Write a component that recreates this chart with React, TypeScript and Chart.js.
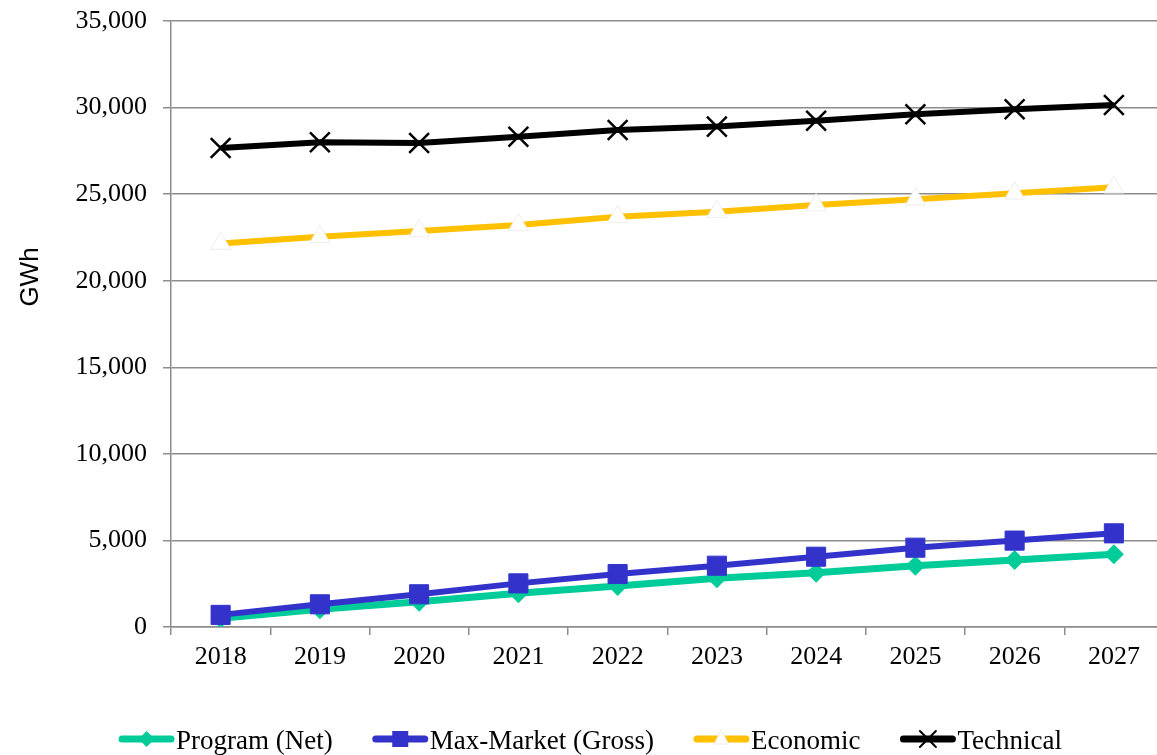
import React, { useEffect, useRef } from "react";
import { Chart, registerables } from "chart.js";

Chart.register(...registerables);

const years = ["2018", "2019", "2020", "2021", "2022", "2023", "2024", "2025", "2026", "2027"];
const programNet = [500, 1020, 1460, 1950, 2370, 2810, 3140, 3540, 3870, 4200];
const maxMarket = [700, 1310, 1890, 2520, 3060, 3540, 4060, 4580, 4990, 5410];
const economic = [22150, 22540, 22870, 23220, 23700, 23990, 24370, 24700, 25050, 25400];
const technical = [27660, 28000, 27950, 28320, 28700, 28900, 29240, 29610, 29900, 30150];
const yMin = 0;
const yMax = 35000;
const yStep = 5000;
const yTitle = "GWh";
const legendNames = ["Program (Net)", "Max-Market (Gross)", "Economic", "Technical"];

const GREEN = "#00CC99";
const BLUE = "#3333CC";
const YELLOW = "#FFC000";
const BLACK = "#000000";
const GRID = "#8c8c8c";
const SERIF = "'Liberation Serif', 'Times New Roman', serif";
const SANS = "'Liberation Sans', Arial, sans-serif";

const CW = 1180;
const CH = 755;

function drawLegendMarker(ctx: CanvasRenderingContext2D, kind: string, x: number, y: number, color: string) {
  ctx.save();
  if (kind === "diamond") {
    ctx.fillStyle = color;
    ctx.beginPath();
    ctx.moveTo(x, y - 8);
    ctx.lineTo(x + 8, y);
    ctx.lineTo(x, y + 8);
    ctx.lineTo(x - 8, y);
    ctx.closePath();
    ctx.fill();
  } else if (kind === "square") {
    ctx.fillStyle = color;
    ctx.fillRect(x - 8, y - 8, 16, 16);
  } else if (kind === "triangle") {
    ctx.fillStyle = "#ffffff";
    ctx.strokeStyle = "#ececec";
    ctx.lineWidth = 1;
    ctx.beginPath();
    ctx.moveTo(x, y - 9);
    ctx.lineTo(x + 7, y + 5);
    ctx.lineTo(x - 7, y + 5);
    ctx.closePath();
    ctx.fill();
    ctx.stroke();
  } else if (kind === "cross") {
    ctx.strokeStyle = color;
    ctx.lineWidth = 2;
    ctx.beginPath();
    ctx.moveTo(x - 8, y - 8);
    ctx.lineTo(x + 8, y + 8);
    ctx.moveTo(x + 8, y - 8);
    ctx.lineTo(x - 8, y + 8);
    ctx.stroke();
  }
  ctx.restore();
}

const extrasPlugin = {
  id: "extras",
  afterDraw(chart: any) {
    const ctx: CanvasRenderingContext2D = chart.ctx;
    // Y axis title
    ctx.save();
    ctx.translate(31, 277);
    ctx.rotate(-Math.PI / 2);
    ctx.font = `26px ${SANS}`;
    ctx.fillStyle = "#000";
    ctx.textAlign = "center";
    ctx.textBaseline = "middle";
    ctx.fillText(yTitle, 0, 0);
    ctx.restore();

    // Legend
    const items = [
      { name: legendNames[0], color: GREEN, kind: "diamond" },
      { name: legendNames[1], color: BLUE, kind: "square" },
      { name: legendNames[2], color: YELLOW, kind: "triangle" },
      { name: legendNames[3], color: BLACK, kind: "cross" },
    ];
    ctx.save();
    ctx.font = `27px ${SERIF}`;
    const sw = 57;
    const gap = 40;
    const widths = items.map((it) => sw + ctx.measureText(it.name).width);
    const total = widths.reduce((a, b) => a + b, 0) + gap * (items.length - 1);
    let x = 589.5 - total / 2;
    const ly = 739;
    items.forEach((it, i) => {
      ctx.strokeStyle = it.color;
      ctx.lineWidth = 7;
      ctx.lineCap = "round";
      ctx.beginPath();
      ctx.moveTo(x + 4, ly);
      ctx.lineTo(x + sw - 4, ly);
      ctx.stroke();
      drawLegendMarker(ctx, it.kind, x + sw / 2, ly, it.color);
      ctx.fillStyle = "#000";
      ctx.textAlign = "left";
      ctx.textBaseline = "alphabetic";
      ctx.fillText(it.name, x + sw + 1, 749);
      x += widths[i] + gap;
    });
    ctx.restore();
  },
};

function LineChart() {
  const ref = useRef<HTMLCanvasElement | null>(null);
  useEffect(() => {
    if (!ref.current) return;
    const chart = new Chart(ref.current, {
      type: "line",
      data: {
        labels: years,
        datasets: [
          {
            label: legendNames[0],
            data: programNet,
            borderColor: GREEN,
            backgroundColor: GREEN,
            borderWidth: 7,
            pointStyle: "rectRot",
            pointRadius: 10,
            pointBorderWidth: 0,
            pointBackgroundColor: GREEN,
            tension: 0,
            order: 1,
          },
          {
            label: legendNames[1],
            data: maxMarket,
            borderColor: BLUE,
            backgroundColor: BLUE,
            borderWidth: 6,
            pointStyle: "rect",
            pointRadius: 13.5,
            pointBorderWidth: 1,
            pointBorderColor: BLUE,
            pointBackgroundColor: BLUE,
            tension: 0,
            order: 0,
          },
          {
            label: legendNames[2],
            data: economic,
            borderColor: YELLOW,
            backgroundColor: YELLOW,
            borderWidth: 6,
            pointStyle: "triangle",
            pointRadius: 11.5,
            pointBorderWidth: 1,
            pointBorderColor: "#ededed",
            pointBackgroundColor: "#ffffff",
            tension: 0,
            order: 2,
          },
          {
            label: legendNames[3],
            data: technical,
            borderColor: BLACK,
            backgroundColor: BLACK,
            borderWidth: 6,
            pointStyle: "crossRot",
            pointRadius: 14,
            pointBorderWidth: 2.5,
            pointBorderColor: BLACK,
            tension: 0,
            order: 3,
          },
        ],
      },
      options: {
        animation: false,
        responsive: false,
        maintainAspectRatio: false,
        layout: { padding: { left: 0, top: 21, right: 12, bottom: 0 } },
        plugins: {
          legend: { display: false },
          tooltip: { enabled: false },
          title: { display: false },
        },
        scales: {
          x: {
            type: "category",
            offset: true,
            afterFit: (s: any) => {
              s.height = 128;
              s.paddingLeft = 0;
              s.paddingRight = 0;
            },
            grid: {
              offset: true,
              drawOnChartArea: false,
              drawTicks: true,
              tickLength: 8,
              color: GRID,
              lineWidth: 1.5,
            },
            border: { display: true, color: GRID, width: 1.5 },
            ticks: {
              font: { family: SERIF, size: 26 },
              color: "#000",
              padding: 7,
              maxRotation: 0,
              autoSkip: false,
            },
          },
          y: {
            min: yMin,
            max: yMax,
            afterFit: (s: any) => {
              s.width = 171;
              s.paddingTop = 0;
              s.paddingBottom = 0;
            },
            grid: {
              color: GRID,
              lineWidth: 1.5,
              drawTicks: true,
              tickLength: 8,
            },
            border: { display: true, color: GRID, width: 1.5 },
            ticks: {
              stepSize: yStep,
              font: { family: SERIF, size: 26 },
              color: "#000",
              padding: 16,
              callback: (v: any) => Number(v).toLocaleString("en-US"),
            },
          },
        },
      },
      plugins: [extrasPlugin],
    } as any);
    return () => chart.destroy();
  }, []);
  return <canvas ref={ref} width={CW} height={CH} style={{ display: "block", width: CW, height: CH }} />;
}

export default function App() {
  return (
    <div
      style={{
        position: "fixed",
        left: 0,
        top: 0,
        width: 1157,
        height: 755,
        overflow: "hidden",
        background: "#fff",
      }}
    >
      <LineChart />
    </div>
  );
}
